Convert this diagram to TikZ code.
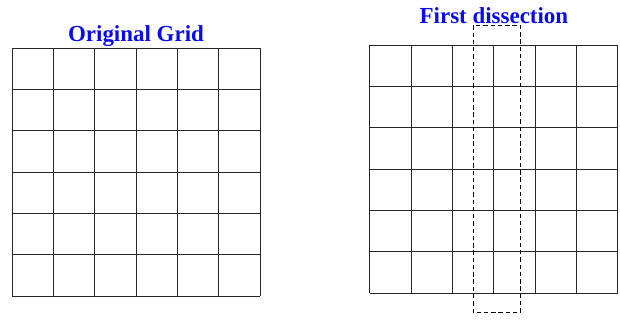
\documentclass[tikz,border=0pt]{standalone}
\usepackage{fontspec}
\setmainfont{Liberation Serif}
\usepackage{tikz}
\usetikzlibrary{positioning}
\definecolor{titleblue}{RGB}{10, 10, 240}

\begin{document}
\begin{tikzpicture}[x=1cm, y=1cm,
    gridline/.style={line width=0.6pt, black!85},
    cutbox/.style={dashed, line width=0.6pt, dash pattern=on 3pt off 2pt},
    gridtitle/.style={anchor=base, inner sep=0pt, text=titleblue,
                      font=\fontsize{15.8}{18}\selectfont\bfseries}]
  \useasboundingbox (-0.29,-0.65) rectangle (14.71,7.16);
  % Original grid
  \begin{scope}
    \draw[gridline] (0,0) grid (6,6);
    \node[gridtitle] (origtitle) at (3,6.15) {Original Grid};
  \end{scope}
  % First dissection
  \begin{scope}[xshift=8.66cm, yshift=0.07cm]
    \draw[gridline] (0,0) grid (6,6);
    \node[gridtitle] (cuttitle) at (3,6.53) {First dissection};
    \draw[cutbox] (2.5,-0.48) rectangle (3.63,6.48);
  \end{scope}
\end{tikzpicture}
\end{document}
